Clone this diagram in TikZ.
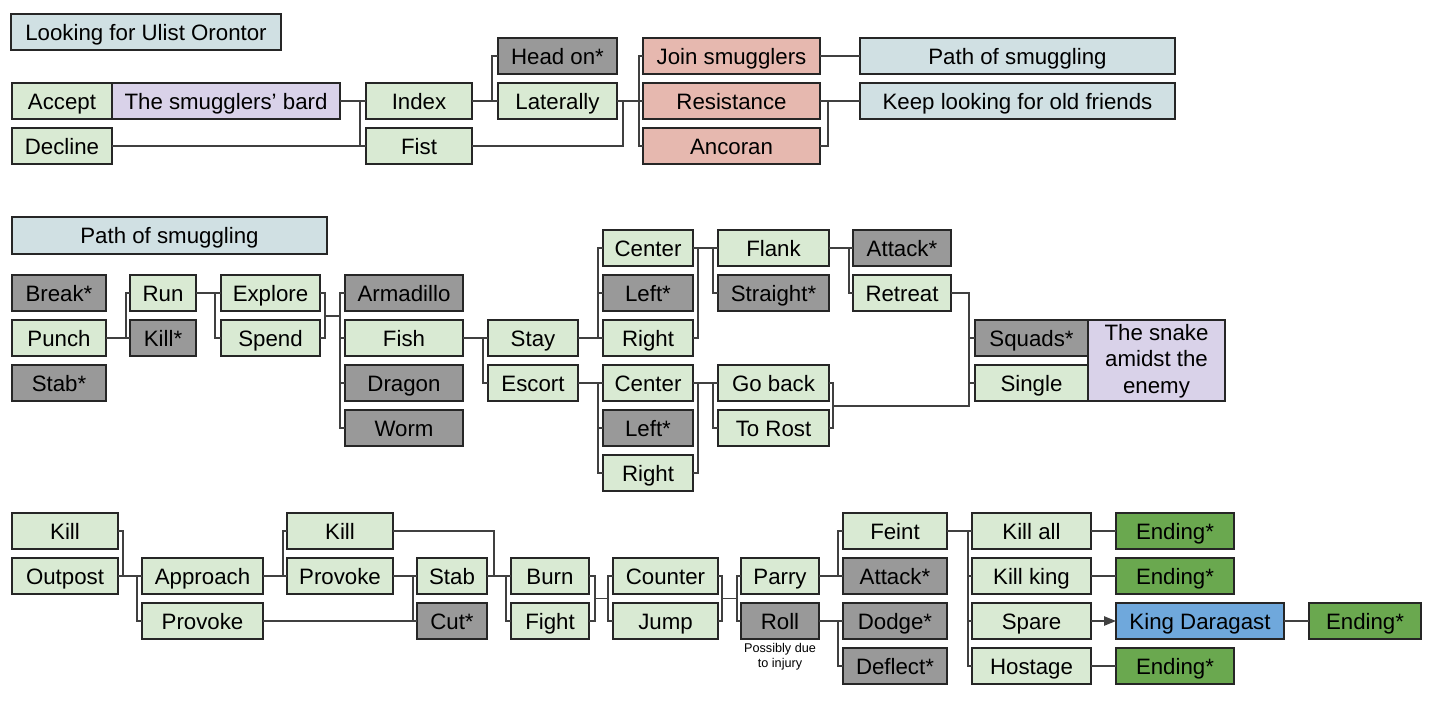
\documentclass[tikz,border=0pt]{standalone}
\usepackage{fontspec}
\setmainfont{Liberation Sans}
\usetikzlibrary{arrows.meta}
\definecolor{cgreen}{HTML}{D9EAD3}
\definecolor{cgray}{HTML}{999999}
\definecolor{cblue}{HTML}{D0E0E3}
\definecolor{clav}{HTML}{D9D2E9}
\definecolor{cpink}{HTML}{E6B8AF}
\definecolor{cdgreen}{HTML}{6AA84F}
\definecolor{cbblue}{HTML}{6FA8DC}
\tikzset{
  bxbase/.style={draw=black!85, line width=1.1pt, inner sep=0pt, outer sep=0pt, text=black,
    font=\fontsize{16.7}{19.5}\selectfont},
  gn/.style={bxbase, fill=cgreen},
  gy/.style={bxbase, fill=cgray},
  bl/.style={bxbase, fill=cblue},
  lv/.style={bxbase, fill=clav},
  pk/.style={bxbase, fill=cpink},
  dg/.style={bxbase, fill=cdgreen},
  bu/.style={bxbase, fill=cbblue},
  conn/.style={draw=black!75, line width=1.1pt},
}
\newcommand{\boxnode}[7]{\node[#1, minimum width={(#5-#3)*0.75pt}, minimum height={(#6-#4)*0.75pt},
  text height=14.9pt, text depth=2.7pt] (#2) at ({(#3+#5)/2},{(#4+#6)/2}) {#7};}
\begin{document}
\begin{tikzpicture}[x=0.75pt,y=-0.75pt]
\useasboundingbox (0,0) rectangle (1434,708);
\fill[white] (0,0) rectangle (1434,708);
% Row 1
\boxnode{bl}{title1}{11}{14}{281}{50}{Looking for Ulist Orontor}
\boxnode{gn}{accept}{12}{83}{112}{119}{Accept}
\boxnode{lv}{bard}{112}{83}{340}{119}{The smugglers’ bard}
\boxnode{gn}{decline}{12}{128}{112}{164}{Decline}
\boxnode{gn}{index}{366}{83}{472}{119}{Index}
\boxnode{gn}{fist}{366}{128}{472}{164}{Fist}
\boxnode{gy}{headon}{498}{38}{617}{74}{Head on*}
\boxnode{gn}{lat}{498}{83}{617}{119}{Laterally}
\boxnode{pk}{join}{643}{38}{820}{74}{Join smugglers}
\boxnode{pk}{res}{643}{83}{820}{119}{Resistance}
\boxnode{pk}{anc}{643}{128}{820}{164}{Ancoran}
\boxnode{bl}{path}{860}{38}{1175}{74}{Path of smuggling}
\boxnode{bl}{keep}{860}{83}{1175}{119}{Keep looking for old friends}
% Row 2
\boxnode{bl}{title2}{12}{217}{327}{254}{Path of smuggling}
\boxnode{gy}{break}{12}{275}{106}{311}{Break*}
\boxnode{gn}{punch}{12}{320}{106}{356}{Punch}
\boxnode{gy}{stabA}{12}{365}{106}{401}{Stab*}
\boxnode{gn}{run}{130}{275}{196}{311}{Run}
\boxnode{gy}{killS}{130}{320}{196}{356}{Kill*}
\boxnode{gn}{explore}{221}{275}{320}{311}{Explore}
\boxnode{gn}{spend}{221}{320}{320}{356}{Spend}
\boxnode{gy}{arma}{345}{275}{463}{311}{Armadillo}
\boxnode{gn}{fish}{345}{320}{463}{356}{Fish}
\boxnode{gy}{dragon}{345}{365}{463}{401}{Dragon}
\boxnode{gy}{worm}{345}{410}{463}{446}{Worm}
\boxnode{gn}{stay}{488}{320}{578}{356}{Stay}
\boxnode{gn}{escort}{488}{365}{578}{401}{Escort}
\boxnode{gn}{cA}{603}{230}{693}{266}{Center}
\boxnode{gy}{lA}{603}{275}{693}{311}{Left*}
\boxnode{gn}{rA}{603}{320}{693}{356}{Right}
\boxnode{gn}{cB}{603}{365}{693}{401}{Center}
\boxnode{gy}{lB}{603}{410}{693}{446}{Left*}
\boxnode{gn}{rB}{603}{455}{693}{491}{Right}
\boxnode{gn}{flank}{718}{230}{829}{266}{Flank}
\boxnode{gy}{straight}{718}{275}{829}{311}{Straight*}
\boxnode{gn}{goback}{718}{365}{829}{401}{Go back}
\boxnode{gn}{torost}{718}{410}{829}{446}{To Rost}
\boxnode{gy}{attackA}{853}{230}{951}{266}{Attack*}
\boxnode{gn}{retreat}{853}{275}{951}{311}{Retreat}
\boxnode{gy}{squads}{975}{320}{1088}{356}{Squads*}
\boxnode{gn}{single}{975}{365}{1088}{401}{Single}
\node[lv, minimum width={137*0.75pt}, minimum height={81*0.75pt}, text height=0pt, text depth=0pt,
  font=\fontsize{16.7}{20}\selectfont] (snake) at (1156.5,360.5)
  {\raisebox{-5.1pt}[0pt][0pt]{\begin{tabular}{@{}c@{}}The snake\\amidst the\\enemy\end{tabular}}};
% Row 3
\boxnode{gn}{killA}{12}{513}{118}{549}{Kill}
\boxnode{gn}{outpost}{12}{558}{118}{594}{Outpost}
\boxnode{gn}{approach}{142}{558}{263}{594}{Approach}
\boxnode{gn}{provA}{142}{603}{263}{639}{Provoke}
\boxnode{gn}{killB}{287}{513}{393}{549}{Kill}
\boxnode{gn}{provB}{287}{558}{393}{594}{Provoke}
\boxnode{gn}{stab}{417}{558}{487}{594}{Stab}
\boxnode{gy}{cut}{417}{603}{487}{639}{Cut*}
\boxnode{gn}{burn}{511}{558}{589}{594}{Burn}
\boxnode{gn}{fight}{511}{603}{589}{639}{Fight}
\boxnode{gn}{counter}{613}{558}{718}{594}{Counter}
\boxnode{gn}{jump}{613}{603}{718}{639}{Jump}
\boxnode{gn}{parry}{741}{558}{819}{594}{Parry}
\boxnode{gy}{roll}{741}{603}{819}{639}{Roll}
\node[font=\fontsize{9.5}{11.3}\selectfont, align=center, inner sep=0pt] (note) at (780,656.5) {Possibly due\\to injury};
\boxnode{gn}{feint}{843}{513}{947}{549}{Feint}
\boxnode{gy}{attackB}{843}{558}{947}{594}{Attack*}
\boxnode{gy}{dodge}{843}{603}{947}{639}{Dodge*}
\boxnode{gy}{deflect}{843}{648}{947}{684}{Deflect*}
\boxnode{gn}{killall}{972}{513}{1091}{549}{Kill all}
\boxnode{gn}{killking}{972}{558}{1091}{594}{Kill king}
\boxnode{gn}{spare}{972}{603}{1091}{639}{Spare}
\boxnode{gn}{hostage}{972}{648}{1091}{684}{Hostage}
\boxnode{dg}{endA}{1116}{513}{1234}{549}{Ending*}
\boxnode{dg}{endB}{1116}{558}{1234}{594}{Ending*}
\boxnode{bu}{king}{1116}{603}{1284}{639}{King Daragast}
\boxnode{dg}{endC}{1309}{603}{1421}{639}{Ending*}
\boxnode{dg}{endD}{1116}{648}{1234}{684}{Ending*}
% Connectors row 1
\draw[conn] (bard.east) -- (index.west);
\draw[conn] (bard.east) -- ++(20,0) |- (fist.west);
\draw[conn] (decline.east) -- (fist.west);
\draw[conn] (index.east) -- (lat.west);
\draw[conn] (index.east) -- ++(20,0) |- (headon.west);
\draw[conn] (lat.east) -- (res.west);
\draw[conn] (lat.east) -- ++(22,0) |- (join.west);
\draw[conn] (lat.east) -- ++(22,0) |- (anc.west);
\draw[conn] (fist.east) -- ++(151,0) |- (res.west);
\draw[conn] (join.east) -- (path.west);
\draw[conn] (res.east) -- (keep.west);
\draw[conn] (anc.east) -- ++(8,0) |- (keep.west);
% Connectors row 2
\draw[conn] (punch.east) -- (killS.west);
\draw[conn] (punch.east) -- ++(20,0) |- (run.west);
\draw[conn] (run.east) -- (explore.west);
\draw[conn] (run.east) -- ++(19,0) |- (spend.west);
\coordinate (es) at (340,316);
\draw[conn] (explore.east) -- ++(5,0) |- (es);
\draw[conn] (spend.east) -- ++(5,0) |- (es);
\draw[conn] (es) |- (arma.west);
\draw[conn] (es) |- (fish.west);
\draw[conn] (es) |- (dragon.west);
\draw[conn] (es) |- (worm.west);
\draw[conn] (fish.east) -- (stay.west);
\draw[conn] (fish.east) -- ++(20,0) |- (escort.west);
\draw[conn] (stay.east) -- (rA.west);
\draw[conn] (stay.east) -- ++(20,0) |- (cA.west);
\draw[conn] (stay.east) -- ++(20,0) |- (lA.west);
\draw[conn] (escort.east) -- (cB.west);
\draw[conn] (escort.east) -- ++(20,0) |- (lB.west);
\draw[conn] (escort.east) -- ++(20,0) |- (rB.west);
\draw[conn] (cA.east) -- (flank.west);
\draw[conn] (cA.east) -- ++(20,0) |- (straight.west);
\draw[conn] (rA.east) -- ++(5,0) |- (flank.west);
\draw[conn] (cB.east) -- (goback.west);
\draw[conn] (cB.east) -- ++(20,0) |- (torost.west);
\draw[conn] (rB.east) -- ++(5,0) |- (goback.west);
\draw[conn] (flank.east) -- (attackA.west);
\draw[conn] (flank.east) -- ++(20,0) |- (retreat.west);
\draw[conn] (retreat.east) -- ++(18,0) |- (squads.west);
\draw[conn] (retreat.east) -- ++(18,0) |- (single.west);
\coordinate (gt) at (833,406);
\coordinate (gt2) at (969,406);
\draw[conn] (goback.east) -- ++(4,0) |- (gt);
\draw[conn] (torost.east) -- ++(4,0) |- (gt);
\draw[conn] (gt) -- (gt2) |- (single.west);
% Connectors row 3
\draw[conn] (killA.east) -- ++(5,0) |- (approach.west);
\draw[conn] (outpost.east) -- (approach.west);
\draw[conn] (outpost.east) -- ++(19,0) |- (provA.west);
\draw[conn] (approach.east) -- (provB.west);
\draw[conn] (approach.east) -- ++(20,0) |- (killB.west);
\draw[conn] (provB.east) -- (stab.west);
\draw[conn] (provB.east) -- ++(20,0) |- (cut.west);
\draw[conn] (provA.east) -- (cut.west);
\draw[conn] (killB.east) -- ++(101,0) |- (burn.west);
\draw[conn] (stab.east) -- (burn.west);
\draw[conn] (stab.east) -- ++(19,0) |- (fight.west);
\coordinate (bf) at (608,598.5);
\draw[conn] (burn.east) -- ++(6,0) |- (bf);
\draw[conn] (fight.east) -- ++(6,0) |- (bf);
\draw[conn] (bf) |- (counter.west);
\draw[conn] (bf) |- (jump.west);
\coordinate (cj) at (737,598.5);
\draw[conn] (counter.east) -- ++(4,0) |- (cj);
\draw[conn] (jump.east) -- ++(4,0) |- (cj);
\draw[conn] (cj) |- (parry.west);
\draw[conn] (cj) |- (roll.west);
\draw[conn] (parry.east) -- (attackB.west);
\draw[conn] (parry.east) -- ++(19,0) |- (feint.west);
\draw[conn] (roll.east) -- (dodge.west);
\draw[conn] (roll.east) -- ++(19,0) |- (deflect.west);
\draw[conn] (feint.east) -- (killall.west);
\draw[conn] (feint.east) -- ++(21,0) |- (killking.west);
\draw[conn] (feint.east) -- ++(21,0) |- (spare.west);
\draw[conn] (feint.east) -- ++(21,0) |- (hostage.west);
\draw[conn] (killall.east) -- (endA.west);
\draw[conn] (killking.east) -- (endB.west);
\draw[conn, -{Triangle[length=9pt,width=7pt]}] (spare.east) -- (king.west);
\draw[conn] (king.east) -- (endC.west);
\draw[conn] (hostage.east) -- (endD.west);
\end{tikzpicture}
\end{document}
